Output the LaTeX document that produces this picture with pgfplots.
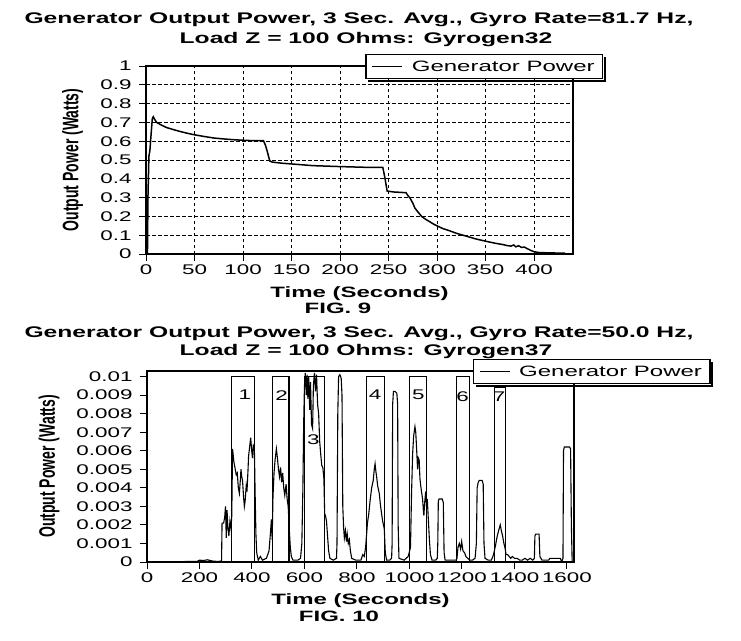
\documentclass[border=0pt]{standalone}
\usepackage{fontspec}
\setmainfont{Liberation Sans}
\usepackage{graphicx}
\usepackage{pgfplots}
\pgfplotsset{compat=1.18}

% the scanned figures are stretched sideways; stretch the text the same way
\newcommand\wide[1]{\scalebox{1.6}[1]{#1}}
\newcommand\tall[1]{\scalebox{1}[1.6]{#1}}

\pgfplotstableread{
x y
0 0
1.5 0.0
2 0.30
3 0.52
4 0.55
5 0.62
6.5 0.72
7.5 0.73
9 0.715
11 0.70
15 0.688
21 0.673
28 0.662
35 0.652
42 0.643
49 0.635
60 0.625
70 0.617
80 0.612
90 0.608
100 0.605
110 0.603
121 0.603
123 0.58
125 0.545
127.5 0.495
130 0.489
140 0.483
150 0.479
172 0.470
200 0.465
227 0.461
244 0.461
246 0.41
248.5 0.335
255 0.330
262 0.328
268 0.326
270 0.31
272 0.298
275 0.27
277 0.245
280 0.225
284 0.20
288 0.185
292 0.173
296 0.16
301 0.147
306 0.135
312 0.125
320 0.11
330 0.095
340 0.08
350 0.068
360 0.057
368 0.05
372 0.045
376 0.042
379 0.048
381 0.038
384 0.044
387 0.035
390 0.037
393 0.028
397 0.018
400 0.012
405 0.008
415 0.006
425 0.005
432 0.005
}\gyroA

\pgfplotstableread{
x y
0 0.00002
100 0.00002
190 0.00003
200 0.0001
215 0.00008
230 0.00012
250 0.00005
270 0.00003
284 0.00005
286 0.0021
292 0.0021
296 0.0024
299 0.0030
302 0.0013
305 0.0028
308 0.0019
312 0.0014
316 0.0022
320 0.0018
323 0.0025
326 0.0061
331 0.0054
335 0.0051
340 0.0047
344 0.0048
348 0.0040
352 0.0037
356 0.0045
358 0.0050
361 0.0046
364 0.0044
368 0.0035
371 0.0030
374 0.0033
378 0.0041
381 0.0038
385 0.0050
387 0.0057
391 0.0062
395 0.0067
399 0.0060
402 0.0056
405 0.0063
409 0.0062
412 0.0037
415 0.0015
418 0.0005
424 0.0001
432 0.0003
440 0.0001
455 0.0002
465 0.0006
470 0.0015
474 0.0023
477 0.0012
480 0.0035
484 0.0048
488 0.0055
493 0.0061
497 0.0056
501 0.0050
505 0.0046
509 0.0051
513 0.0043
517 0.0048
521 0.0040
525 0.0036
530 0.0042
534 0.0034
538 0.0030
542 0.0018
546 0.0008
550 0.0003
556 0.0001
575 0.0001
585 0.0002
590 0.0010
594 0.0040
597 0.0075
600 0.0095
603 0.0102
607 0.0090
610 0.0101
613 0.0088
616 0.0100
620 0.0082
623 0.0097
627 0.0074
631 0.0072
634 0.0095
638 0.0102
642 0.0092
646 0.0101
650 0.0085
654 0.0080
658 0.0065
662 0.0058
666 0.0052
670 0.0051
674 0.0045
677 0.0026
680 0.0025
684 0.0022
688 0.0014
692 0.0006
697 0.0002
710 0.0001
722 0.0002
724 0.0010
727 0.0080
730 0.0100
735 0.0101
740 0.0099
743 0.0090
746 0.0030
749 0.0019
752 0.0013
756 0.0017
760 0.0011
763 0.0015
767 0.0010
771 0.0012
775 0.0006
780 0.0002
795 0.0001
815 0.0001
822 0.0004
828 0.0003
833 0.0008
840 0.0021
845 0.0026
850 0.0033
856 0.0040
862 0.0044
866 0.0050
869 0.0053
872 0.0049
875 0.0046
879 0.0041
885 0.0037
890 0.0030
894 0.0026
898 0.0022
904 0.0018
908 0.0005
913 0.0001
925 0.0001
932 0.0002
934 0.0010
936 0.0085
939 0.0092
945 0.0092
952 0.0091
955 0.0085
957 0.0020
960 0.0002
980 0.0001
995 0.0003
999 0.0005
1004 0.0008
1008 0.0037
1012 0.0058
1016 0.0068
1021 0.0073
1024 0.0070
1027 0.0062
1031 0.0050
1034 0.0056
1037 0.0055
1040 0.0045
1043 0.0041
1047 0.0037
1050 0.0034
1053 0.0028
1055 0.0025
1058 0.0032
1062 0.0038
1065 0.0030
1068 0.0034
1072 0.0023
1076 0.0012
1080 0.0004
1086 0.0001
1100 0.0001
1106 0.0002
1108 0.0010
1110 0.0033
1113 0.0034
1125 0.0034
1129 0.0032
1132 0.0005
1136 0.0001
1160 0.0001
1178 0.0001
1181 0.0002
1185 0.0008
1190 0.0010
1195 0.0007
1199 0.0011
1204 0.0006
1210 0.0005
1215 0.0003
1222 0.0002
1230 0.0001
1240 0.0001
1250 0.0002
1255 0.0010
1258 0.0040
1262 0.0043
1266 0.0044
1277 0.0044
1281 0.0042
1284 0.0010
1288 0.0002
1300 0.0001
1312 0.0001
1318 0.0003
1322 0.0005
1328 0.0009
1333 0.0013
1338 0.0016
1342 0.0018
1346 0.0020
1350 0.0017
1355 0.0014
1360 0.0010
1365 0.0007
1368 0.0004
1374 0.0004
1380 0.0003
1386 0.0002
1392 0.0003
1400 0.0002
1410 0.0002
1420 0.0001
1430 0.0001
1440 0.0002
1450 0.0001
1460 0.0002
1470 0.0001
1476 0.0002
1478 0.0014
1481 0.0015
1494 0.0015
1497 0.0003
1505 0.0001
1520 0.0001
1530 0.0001
1535 0.0002
1545 0.0002
1560 0.0002
1575 0.0002
1580 0.0000
1585 0.0002
1587 0.0060
1590 0.0062
1610 0.0062
1614 0.0061
1617 0.0020
1620 0.0000
}\gyroB

% numbered test windows (start, end, height)
\pgfplotstableread{
x y
323 0
323 0.01
411 0.01
411 0
nan nan
479 0
479 0.01
541 0.01
541 0
nan nan
599 0
599 0.01
675 0.01
675 0
nan nan
837 0
837 0.01
904 0.01
904 0
nan nan
999 0
999 0.01
1065 0.01
1065 0
nan nan
1180 0
1180 0.01
1228 0.01
1228 0
nan nan
1323 0
1323 0.0094
1366 0.0094
1366 0
}\windows

\pgfplotsset{
  gyro/.style={
    scale only axis,
    width=427pt,
    axis line style={line width=2pt},
    tick align=outside,
    major tick length=7pt,
    tick style={black, line width=1pt},
    xtick pos=bottom, ytick pos=left,
    scaled ticks=false,
    /pgf/number format/fixed,
    /pgf/number format/1000 sep={},
    /pgf/number format/assume math mode=true,
    tick label style={font=\fontsize{14}{16}\selectfont},
    xticklabel={\wide{\pgfmathprintnumber{\tick}}},
    yticklabel style={xshift=-4pt},
    every axis x label/.style={at={(axis description cs:0.5,0)}, anchor=base, yshift=-43.5pt,
      font=\bfseries\fontsize{15}{18}\selectfont},
    every axis y label/.style={rotate=90, anchor=center,
      font=\bfseries\fontsize{14}{16}\selectfont},
    xlabel={\wide{Time (Seconds)}},
    ylabel={\tall{Output Power (Watts)}},
    legend cell align=left,
    legend image code/.code={\draw[black, line width=0.8pt] (0pt,0pt) -- (30pt,0pt);},
    legend style={draw=black, line width=1.2pt, fill=white,
      font=\fontsize{15}{18}\selectfont, inner xsep=6pt, inner ysep=4pt,
      anchor=north west},
  }
}

\begin{document}
\begin{tikzpicture}
\path (0pt,0pt) rectangle (741pt,-640pt);

\node[anchor=base, font=\bfseries\fontsize{15.4}{18}\selectfont] at (359pt,-23.5pt)
  {\wide{Generator Output Power, 3 Sec. Avg., Gyro Rate=81.7 Hz,}};
\node[anchor=base, font=\bfseries\fontsize{15.4}{18}\selectfont] at (366pt,-43.5pt)
  {\wide{Load Z = 100 Ohms: Gyrogen32}};

\begin{axis}[gyro,
  at={(146pt,-254pt)}, anchor=south west,
  height=188pt,
  xmin=0, xmax=440, ymin=0, ymax=1,
  xtick={0,50,...,400},
  ytick={0,0.1,0.2,0.3,0.4,0.5,0.6,0.7,0.8,0.9,1},
  yticklabel={\wide{\pgfmathprintnumber[precision=1]{\tick}}},
  grid=major,
  major grid style={black, line width=0.7pt, dash pattern=on 3.5pt off 2.5pt},
  every axis y label/.append style={at={(axis description cs:-0.1721,0.5)}},
  legend style={at={(axis description cs:0.514,1.064)}, name=legA},
]
\addplot[black, line width=1.5pt] table[x=x, y=y] {\gyroA};
\addlegendentry{\hspace{7pt}\wide{Generator Power}\hspace{2pt}}
\end{axis}
% legend shadow
\draw[black, line width=2pt] ([xshift=1.6pt,yshift=-3pt]legA.north east)
  -- ([xshift=1.6pt,yshift=-1.6pt]legA.south east) -- ([xshift=3pt,yshift=-1.6pt]legA.south west);
\node[anchor=base, font=\bfseries\fontsize{15}{18}\selectfont] at (338pt,-313.5pt) {\wide{FIG. 9}};

\node[anchor=base, font=\bfseries\fontsize{15.4}{18}\selectfont] at (359pt,-337pt)
  {\wide{Generator Output Power, 3 Sec. Avg., Gyro Rate=50.0 Hz,}};
\node[anchor=base, font=\bfseries\fontsize{15.4}{18}\selectfont] at (366pt,-355.5pt)
  {\wide{Load Z = 100 Ohms: Gyrogen37}};

\begin{axis}[gyro,
  at={(147pt,-562pt)}, anchor=south west,
  height=191pt,
  xmin=0, xmax=1627, ymin=0, ymax=0.0103,
  xtick={0,200,...,1600},
  ytick={0,0.001,0.002,0.003,0.004,0.005,0.006,0.007,0.008,0.009,0.01},
  yticklabel={\wide{\pgfmathprintnumber[precision=3]{\tick}}},
  unbounded coords=jump,
  every axis x label/.append style={yshift=1pt},
  every axis y label/.append style={at={(axis description cs:-0.2295,0.5)}},
  legend style={at={(axis description cs:0.763,1.063)}, name=legB},
]
\addplot[black, line width=1.1pt] table[x=x, y=y] {\gyroB};
\addlegendentry{\hspace{7pt}\wide{Generator Power}\hspace{2pt}}
\addplot[black, line width=1.1pt, forget plot] table[x=x, y=y] {\windows};
\begin{scope}[font=\fontsize{14}{16}\selectfont]
\node at (axis cs:373,0.0090) {\wide{1}};
\node at (axis cs:513,0.0090) {\wide{2}};
\node at (axis cs:634,0.0066) {\wide{3}};
\node at (axis cs:869,0.0090) {\wide{4}};
\node at (axis cs:1034,0.0090) {\wide{5}};
\node at (axis cs:1203,0.0089) {\wide{6}};
\node at (axis cs:1342,0.0089) {\wide{7}};
\end{scope}
\end{axis}
\draw[black, line width=2pt] ([xshift=1.6pt,yshift=-3pt]legB.north east)
  -- ([xshift=1.6pt,yshift=-1.6pt]legB.south east) -- ([xshift=3pt,yshift=-1.6pt]legB.south west);
\node[anchor=base, font=\bfseries\fontsize{15}{18}\selectfont] at (339pt,-621.5pt) {\wide{FIG. 10}};
\end{tikzpicture}
\end{document}
